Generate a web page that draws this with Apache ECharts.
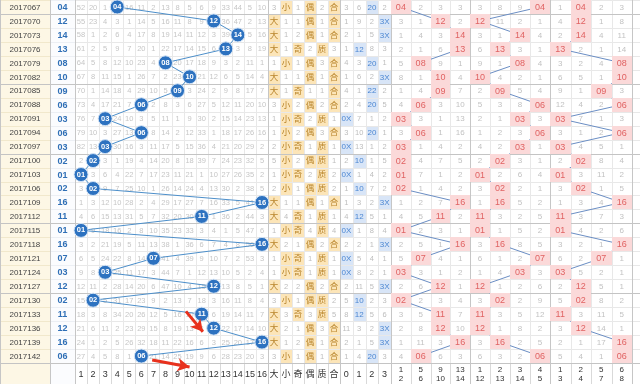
<!DOCTYPE html>
<html><head><meta charset="utf-8">
<script src="https://cdn.jsdelivr.net/npm/echarts@6/dist/echarts.min.js"></script>
<style>html,body{margin:0;padding:0;background:#fff}#c{width:640px;height:384px}</style>
</head><body><div id="c"></div>
<script>
const issues = ['2017067','2017070','2017073','2017076','2017079','2017082','2017085','2017088','2017091','2017094','2017097','2017100','2017103','2017106','2017109','2017112','2017115','2017118','2017121','2017124','2017127','2017130','2017133','2017136','2017139','2017142'];
const drawn = [4,12,14,13,8,10,9,6,3,6,3,2,1,2,16,11,1,16,7,3,12,2,11,12,16,6];
// omission matrix, 0 = drawn cell
const missRows = [
 [52,20,1,0,16,11,2,13,8,5,6,9,33,44,5,10],
 [55,23,4,3,1,14,5,16,11,8,9,0,36,47,2,13],
 [58,1,2,6,4,17,8,19,14,11,12,3,39,0,5,16],
 [61,2,5,9,7,20,1,22,17,14,15,6,0,3,8,19],
 [64,5,8,12,10,23,4,0,20,17,18,9,3,2,11,1],
 [67,8,11,15,1,26,7,2,23,0,21,12,6,5,14,4],
 [70,1,14,18,4,29,10,5,0,3,24,2,9,8,17,7],
 [73,4,17,21,7,0,2,8,3,6,27,5,12,11,20,10],
 [76,7,0,24,10,3,5,11,1,9,30,2,15,14,23,13],
 [79,10,3,27,13,0,8,14,2,12,33,1,18,17,26,16],
 [82,13,0,30,16,3,11,17,5,15,36,4,21,20,29,2],
 [2,0,3,1,19,4,14,20,8,18,39,7,24,23,32,5],
 [0,3,6,4,22,7,17,23,11,21,1,10,27,26,35,2],
 [3,0,9,7,25,10,1,26,14,24,4,13,30,2,38,5],
 [1,3,12,10,28,2,4,29,17,27,7,16,33,5,41,0],
 [4,6,15,13,31,5,7,32,20,30,0,1,36,2,44,3],
 [0,9,18,16,2,8,10,35,23,33,3,4,1,5,47,6],
 [3,2,21,19,5,11,13,38,1,36,6,7,4,8,50,0],
 [6,5,24,22,8,14,0,41,4,39,9,10,7,2,53,3],
 [9,8,0,25,11,17,3,44,7,1,12,13,10,5,2,4],
 [12,11,2,28,14,20,6,47,10,4,15,0,13,8,5,1],
 [15,0,5,31,17,23,9,2,13,7,18,3,16,11,8,4],
 [18,3,8,34,20,26,12,5,16,10,0,6,19,14,11,7],
 [21,6,11,2,23,29,15,8,19,13,3,0,22,17,14,10],
 [24,1,2,5,26,32,18,11,22,16,6,3,25,20,17,0],
 [27,4,5,8,1,0,21,14,25,19,9,6,28,23,20,3]
];
const missLabels = ['1','2','3','4','5','6','7','8','9','10','11','12','13','14','15','16'];
const shapeLabels = ['大','小','奇','偶','质','合'];
const shapeRows = [
 [3,0,1,0,2,0],[0,1,1,0,1,0],[0,1,2,0,1,0],[0,1,0,2,0,3],[1,0,1,0,3,0],[0,1,1,0,1,0],
 [0,1,0,1,1,0],[3,0,2,0,2,0],[1,0,0,2,0,1],[1,0,2,0,3,0],[2,0,0,1,0,1],[5,0,2,0,0,1],
 [1,0,0,2,0,2],[2,0,1,0,0,2],[0,1,1,0,1,0],[0,4,0,1,0,1],[1,0,0,4,0,4],[0,2,1,0,2,0],
 [1,0,0,1,0,1],[1,0,0,1,0,1],[0,2,2,0,2,0],[3,0,1,0,0,2],[0,3,0,3,0,5],[0,2,1,0,3,0],
 [0,1,2,0,1,0],[3,0,1,0,1,0]
];
const remLabels = ['0','1','2','3'];
const remRows = [
 [3,6,0,2],[1,9,2,0],[2,1,5,0],[1,0,8,3],[4,3,0,1],[1,6,2,0],[4,1,0,2],[2,4,0,5],
 [0,7,1,2],[3,10,0,1],[0,13,1,2],[2,0,1,5],[0,1,4,2],[1,0,7,2],[1,3,2,0],[4,0,5,1],
 [0,1,8,4],[2,2,1,0],[0,5,4,1],[0,8,2,1],[2,11,5,0],[5,0,2,3],[8,0,5,6],[11,3,2,0],
 [2,1,5,0],[1,4,0,3]
];
const remHit = ['20','3X','3X','12','20','3X','22','20','0X','20','0X','10','0X','10','3X','12','0X','3X','0X','0X','3X','10','12','3X','3X','20'];
const g1Labels = ['1\n2','5\n6','9\n10','13\n14'];
const g1Rows = [
 [0,2,3,3],[3,1,0,2],[1,4,3,0],[2,1,6,0],[5,0,9,1],[8,1,0,4],[1,4,0,7],[4,0,3,10],
 [0,3,1,13],[3,0,1,16],[0,1,4,2],[0,4,7,5],[0,7,1,2],[0,1,4,2],[1,2,7,0],[4,5,0,2],
 [0,2,3,1],[2,5,1,0],[5,0,4,1],[0,3,1,2],[2,6,0,1],[0,2,3,4],[3,5,0,7],[2,8,0,10],
 [1,11,3,0],[4,0,6,3]
];
const g2Labels = ['1\n12','2\n13','3\n14','4\n5'];
const g2Rows = [
 [3,8,9,0],[0,11,2,1],[3,1,0,4],[6,0,3,1],[9,1,0,4],[0,4,2,1],[2,0,5,4],[5,3,8,0],
 [2,1,0,3],[1,2,3,0],[4,2,0,1],[2,0,3,1],[0,2,6,4],[3,0,2,1],[1,0,5,2],[0,3,2,5],
 [0,1,5,2],[3,0,8,5],[6,1,2,0],[1,4,0,3],[0,1,2,6],[3,0,2,9],[0,3,5,12],[0,1,8,2],
 [3,0,2,5],[6,3,2,0]
];
const g3Labels = ['1\n3','2\n4','5\n7','6\n8'];
const g3Rows = [
 [1,0,2,3],[4,0,1,8],[2,0,4,11],[0,2,1,14],[3,2,4,0],[6,5,1,0],[9,1,0,3],[12,4,2,0],
 [0,7,1,3],[3,1,2,0],[0,4,5,1],[2,0,8,4],[0,3,11,2],[3,0,1,5],[1,3,4,0],[0,3,7,3],
 [0,4,2,6],[3,2,1,0],[6,2,0,1],[0,5,2,1],[2,0,5,1],[5,0,8,2],[0,3,11,5],[3,0,14,1],
 [2,1,17,0],[5,4,1,0]
];
// annotation arrows in matrix coordinates [column, row]
const arrows = [[[9.7,21.8],[11.1,23.26]],[[6.9,25.28],[10.0,25.78]]];

const FONT = "'Liberation Sans','Noto Sans CJK SC',sans-serif";
const ROW_H = 14.16;
const TOP = 2 - ROW_H / 2;
const YMAX = 27.0;
const FOOT_Y = 26.25, FOOT_H = 1.5;
const sections = [
 {left:0, width:50, n:1},
 {left:50, width:25, n:1},
 {left:75, width:193, n:16},
 {left:268, width:72, n:6},
 {left:340, width:51, n:4},
 {left:391, width:79, n:4},
 {left:470, width:80, n:4},
 {left:550, width:82, n:4},
 {left:632, width:12, n:1}
];
const pad = v => (v < 10 ? '0' : '') + v;
const SEPS = [0,5,10,15,20,25];

function baseItem(col, r, extra) {
  return Object.assign({x: col, y: r, h: 1, stroke: '#e8e8e8', bg: '#fff', sep: SEPS.indexOf(r) >= 0, first: col === 1}, extra);
}
function footItem(col, text, extra) {
  return Object.assign({x: col, y: FOOT_Y, h: FOOT_H, stroke: '#d9d9d9', bg: '#fff', first: col === 1, text: text,
    color: '#333', font: '9px ' + FONT, footer: true}, extra);
}

const sectionItems = [];
sectionItems[0] = issues.map((s, r) => baseItem(1, r, {text: s, color: '#444', font: '8px ' + FONT, bg: '#fdf7e5', stroke: '#f1e8cc'}))
  .concat([footItem(1, '', {bg: '#fdf7e5', stroke: '#f1e8cc'})]);
sectionItems[1] = drawn.map((d, r) => baseItem(1, r, {text: pad(d), color: '#2f6fb6', font: 'bold 9px ' + FONT, bg: '#fbfcfe', stroke: '#eceff4'}))
  .concat([footItem(1, '', {bg: '#fbfcfe', stroke: '#eceff4'})]);
sectionItems[2] = [];
missRows.forEach((row, r) => row.forEach((v, c) => {
  sectionItems[2].push(baseItem(c + 1, r, {text: (c + 1 === drawn[r]) ? '' : String(v), color: '#c6c6c6', font: '7.5px ' + FONT}));
}));
missLabels.forEach((l, c) => sectionItems[2].push(footItem(c + 1, l)));
sectionItems[3] = [];
shapeRows.forEach((row, r) => row.forEach((v, c) => {
  const hit = v === 0;
  sectionItems[3].push(baseItem(c + 1, r, hit
    ? {text: shapeLabels[c], color: '#b8842a', font: '8.5px ' + FONT, bg: '#fce5b8'}
    : {text: String(v), color: '#bdbdbd', font: '7.5px ' + FONT}));
}));
shapeLabels.forEach((l, c) => sectionItems[3].push(footItem(c + 1, l)));
sectionItems[4] = [];
remRows.forEach((row, r) => row.forEach((v, c) => {
  const hit = v === 0;
  sectionItems[4].push(baseItem(c + 1, r, hit
    ? {text: remHit[r], color: '#4b86d2', font: '8px ' + FONT, bg: '#d8e5f7'}
    : {text: String(v), color: '#bdbdbd', font: '7.5px ' + FONT}));
}));
remLabels.forEach((l, c) => sectionItems[4].push(footItem(c + 1, l)));
const groups = [[g1Rows, g1Labels], [g2Rows, g2Labels], [g3Rows, g3Labels]];
const hitItems = [];
groups.forEach(([rows, labels], gi) => {
  const base = [], hits = [];
  rows.forEach((row, r) => row.forEach((v, c) => {
    if (v === 0) {
      base.push(baseItem(c + 1, r, {text: ''}));
      hits.push({x: c + 1, y: r, h: 1, bg: '#fbd9d9', text: pad(drawn[r]), color: '#e06262', font: '9px ' + FONT});
    } else {
      base.push(baseItem(c + 1, r, {text: String(v), color: '#c2c2c2', font: '8px ' + FONT}));
    }
  }));
  labels.forEach((l, c) => base.push(footItem(c + 1, l, {font: '8px ' + FONT, valignTop: true})));
  sectionItems[5 + gi] = base;
  hitItems[gi] = hits;
});
sectionItems[8] = issues.map((s, r) => baseItem(1, r, {text: ''})).concat([footItem(1, '')]);

function renderCells(items) {
  return function (params, api) {
    const it = items[params.dataIndex];
    const c = api.coord([it.x, it.y]);
    const s = api.size([1, it.h]);
    const x0 = Math.round(c[0] - s[0] / 2), x1 = Math.round(c[0] + s[0] / 2);
    const y0 = Math.round(c[1] - s[1] / 2), y1 = Math.round(c[1] + s[1] / 2);
    const ch = [];
    if (it.bg) ch.push({type: 'rect', shape: {x: x0, y: y0, width: x1 - x0, height: y1 - y0}, style: {fill: it.bg}, z2: 0});
    if (it.stroke) ch.push({type: 'rect', shape: {x: x0 + 0.5, y: y0 + 0.5, width: x1 - x0, height: y1 - y0}, style: {fill: null, stroke: it.stroke, lineWidth: 1}, z2: 1});
    if (it.sep) ch.push({type: 'line', shape: {x1: x0, y1: y1 + 0.5, x2: x1 + 1, y2: y1 + 0.5}, style: {stroke: '#c4c4c4', lineWidth: 1}, z2: 3});
    if (it.first) ch.push({type: 'line', shape: {x1: x0 + 0.5, y1: y0, x2: x0 + 0.5, y2: y1 + 1}, style: {stroke: '#c6c6c6', lineWidth: 1}, z2: 3});
    if (it.text) {
      const top = !!it.valignTop;
      ch.push({type: 'text', z2: 4, style: {text: it.text, x: c[0], y: top ? y0 + 2 : c[1] + 0.5,
        align: 'center', verticalAlign: top ? 'top' : 'middle', textAlign: 'center', textVerticalAlign: top ? 'top' : 'middle',
        fill: it.color, font: it.font, lineHeight: 9}});
    }
    return {type: 'group', children: ch};
  };
}

const grid = [], xAxis = [], yAxis = [], series = [];
sections.forEach((sec, i) => {
  grid.push({left: sec.left, top: TOP, width: sec.width, height: (YMAX + 0.5) * ROW_H});
  xAxis.push({type: 'value', gridIndex: i, min: 0.5, max: sec.n + 0.5, show: false});
  yAxis.push({type: 'value', gridIndex: i, min: -0.5, max: YMAX, inverse: true, show: false});
  const items = sectionItems[i];
  series.push({type: 'custom', xAxisIndex: i, yAxisIndex: i, z: 1, silent: true,
    data: items.map(it => [it.x, it.y]), renderItem: renderCells(items), clip: false});
});
series.push({type: 'line', xAxisIndex: 2, yAxisIndex: 2, z: 3, silent: true, symbol: 'none',
  data: drawn.map((d, r) => [d, r]), lineStyle: {color: '#4d8fca', width: 1}});
series.push({type: 'scatter', xAxisIndex: 2, yAxisIndex: 2, z: 4, silent: true, symbolSize: 14,
  data: drawn.map((d, r) => [d, r]),
  itemStyle: {color: '#2d72c0', borderColor: '#d3e3f5', borderWidth: 1, opacity: 1},
  label: {show: true, position: 'inside', formatter: p => pad(drawn[p.dataIndex]), color: '#fff',
    fontSize: 7.5, fontWeight: 'bold', fontFamily: FONT}});
groups.forEach(([rows], gi) => {
  const ai = 5 + gi;
  series.push({type: 'line', xAxisIndex: ai, yAxisIndex: ai, z: 3, silent: true, symbol: 'none',
    data: rows.map((row, r) => [row.indexOf(0) + 1, r]), lineStyle: {color: '#6b8ec4', width: 1}});
  const hits = hitItems[gi];
  series.push({type: 'custom', xAxisIndex: ai, yAxisIndex: ai, z: 5, silent: true,
    data: hits.map(it => [it.x, it.y]), renderItem: renderCells(hits), clip: false});
});
series.push({type: 'line', xAxisIndex: 2, yAxisIndex: 2, z: 10, data: [], silent: true,
  markLine: {silent: true, animation: false, symbol: ['none', 'arrow'], symbolSize: [10, 12], label: {show: false},
    lineStyle: {color: '#e8311d', width: 3, type: 'solid'},
    emphasis: {disabled: true},
    data: arrows.map(a => [{coord: a[0]}, {coord: a[1]}])}});

const chart = echarts.init(document.getElementById('c'), null, {renderer: 'canvas'});
chart.setOption({animation: false, backgroundColor: '#fff', grid, xAxis, yAxis, series});
</script>
</body></html>
